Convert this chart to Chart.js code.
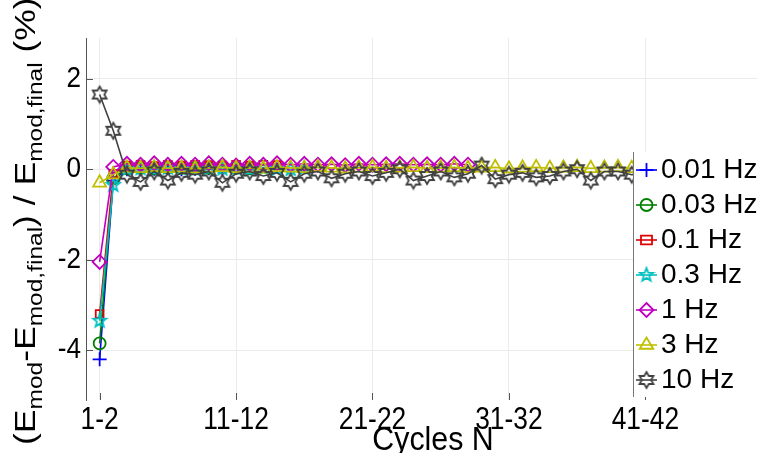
<!DOCTYPE html>
<html>
<head>
<meta charset="utf-8">
<script src="https://cdn.jsdelivr.net/npm/chart.js"></script>
<style>
  html, body { margin: 0; padding: 0; background: #fff; }
  #wrap { width: 767px; height: 453px; }
</style>
</head>
<body>
<div id="wrap"><canvas id="chart" width="767" height="453"></canvas></div>
<script>
// series names + values (% deviation of E_mod from final value, per cycle pair)
const freqLabels = ['0.01 Hz', '0.03 Hz', '0.1 Hz', '0.3 Hz', '1 Hz', '3 Hz', '10 Hz'];
const hz001 = [-4.2, -0.25, 0.0, 0.02, 0.01, 0.02, 0.0, 0.01, 0.02, 0.01];
const hz003 = [-3.85, -0.2, 0.02, 0.03, 0.02, 0.04, 0.03, 0.02, 0.03, 0.04, 0.03, 0.02];
const hz01 = [-3.2, -0.1, 0.08, 0.1, 0.07, 0.1, 0.08, 0.1, 0.09, 0.08, 0.1, 0.08, 0.1, 0.09];
const hz03 = [-3.35, -0.35, 0.0, 0.02, 0.0, 0.03, 0.01, 0.0, 0.02, 0.01, 0.02, 0.0, 0.02, 0.01, 0.0, 0.02];
const hz1 = [-2.05, 0.05, 0.12, 0.1, 0.13, 0.1, 0.12, 0.1, 0.13, 0.1, 0.08, 0.12, 0.1, 0.13,
  0.1, 0.12, 0.1, 0.11, 0.09, 0.12, 0.1, 0.11, 0.12, 0.1, 0.11, 0.1, 0.12, 0.1];
const hz3 = [-0.3, -0.12, 0.03, 0.02, 0.04, 0.02, 0.03, 0.01, 0.03, 0.04, 0.02, 0.03, 0.01, 0.04,
  0.03, 0.02, 0.04, 0.03, 0.01, 0.03, 0.04, 0.02, 0.03, 0.04, 0.02, 0.03, 0.04, 0.02, 0.03, 0.04,
  0.01, 0.03, 0.04, 0.02, 0.03, 0.04, 0.02, 0.03, 0.04, 0.02, 0.03, 0.04, 0.03, 0.02, 0.04, 0.03];
const hz10 = [1.65, 0.85, -0.12, -0.28, -0.05, -0.25, -0.08, -0.12, -0.05, -0.3, -0.1, -0.05,
  -0.15, -0.08, -0.28, -0.1, -0.05, -0.2, -0.1, -0.05, -0.15, -0.08, 0.0, -0.25, -0.15, -0.05,
  -0.18, -0.1, 0.08, -0.22, -0.12, -0.08, -0.18, -0.15, -0.05, 0.0, -0.25, -0.05, -0.05, -0.12,
  -0.1, -0.2, -0.05, 0.0, -0.1, -0.05];
const allSeries = [hz001, hz003, hz01, hz03, hz1, hz3, hz10];

// x tick positions (cycle index) and y ticks
const xTicks = [0, 10, 20, 30, 40];
const yTicks = [2, 0, -2, -4];
const cycleNames = hz10.map((v, i) => (i + 1) + '-' + (i + 2));

const colors = ['#0000ff', '#008000', '#e00000', '#00bfbf', '#bf00bf', '#bfbf00', '#404040'];
const FONT = '"Liberation Sans", Arial, sans-serif';
const LW = 1.8;

// star markers (pentagram / hexagram) as little canvases
function starImg(points, inner, r, color) {
  const c = document.createElement('canvas');
  const s = Math.ceil(r * 2 + 4);
  c.width = s; c.height = s;
  const g = c.getContext('2d');
  g.strokeStyle = color;
  g.lineWidth = LW;
  g.beginPath();
  for (let k = 0; k < points * 2; k++) {
    const rr = k % 2 === 0 ? r : r * inner;
    const a = -Math.PI / 2 + k * Math.PI / points;
    const px = s / 2 + rr * Math.cos(a), py = s / 2 + rr * Math.sin(a);
    if (k === 0) g.moveTo(px, py); else g.lineTo(px, py);
  }
  g.closePath();
  g.stroke();
  return c;
}
const pentaImg = starImg(5, 0.42, 7, colors[3]);
const hexaImg = starImg(6, 0.58, 8, colors[6]);

const markers = ['cross', 'circle', 'rect', pentaImg, 'rectRot', 'triangle', hexaImg];
const radii = [7, 6, 5.5, 7, 7, 7.5, 8];

const datasets = allSeries.map((vals, i) => ({
  label: freqLabels[i],
  data: vals.map((v, k) => ({ x: k, y: v })),
  borderColor: colors[i],
  borderWidth: 1.6,
  pointStyle: markers[i],
  pointRadius: radii[i],
  pointBorderColor: colors[i],
  pointBackgroundColor: 'rgba(0,0,0,0)',
  pointBorderWidth: LW,
  order: 6 - i
}));

function squeezeText(ctx, txt, x, y, size, sx, align) {
  ctx.save();
  ctx.translate(x, y);
  ctx.scale(sx, 1);
  ctx.font = size + 'px ' + FONT;
  ctx.textAlign = align;
  ctx.textBaseline = 'middle';
  ctx.fillStyle = '#000';
  ctx.fillText(txt, 0, 0);
  ctx.restore();
}

function drawMarker(ctx, i, x, y) {
  const m = markers[i], r = radii[i];
  ctx.save();
  ctx.strokeStyle = colors[i];
  ctx.lineWidth = LW;
  if (typeof m !== 'string') {
    ctx.drawImage(m, x - m.width / 2, y - m.height / 2);
    ctx.restore();
    return;
  }
  ctx.beginPath();
  if (m === 'cross') {
    ctx.moveTo(x - r, y); ctx.lineTo(x + r, y);
    ctx.moveTo(x, y - r); ctx.lineTo(x, y + r);
  } else if (m === 'circle') {
    ctx.arc(x, y, r, 0, Math.PI * 2);
  } else if (m === 'rect') {
    ctx.rect(x - r, y - r * 0.8, r * 2, r * 1.6);
  } else if (m === 'rectRot') {
    ctx.moveTo(x, y - r); ctx.lineTo(x + r, y); ctx.lineTo(x, y + r); ctx.lineTo(x - r, y); ctx.closePath();
  } else if (m === 'triangle') {
    ctx.moveTo(x, y - r); ctx.lineTo(x + r * 0.9, y + r * 0.5); ctx.lineTo(x - r * 0.9, y + r * 0.5); ctx.closePath();
  }
  ctx.stroke();
  ctx.restore();
}

// axis texts, legend box and inner tick marks
const decor = {
  id: 'decor',
  afterDraw(chart) {
    const ctx = chart.ctx;
    const xs = chart.scales.x, ys = chart.scales.y;
    const area = chart.chartArea;

    // inner tick marks
    ctx.save();
    ctx.strokeStyle = '#555';
    ctx.lineWidth = 1;
    xs.ticks.forEach(t => {
      const px = Math.round(xs.getPixelForValue(t.value)) + 0.5;
      ctx.beginPath(); ctx.moveTo(px, area.bottom); ctx.lineTo(px, area.bottom - 7); ctx.stroke();
    });
    ys.ticks.forEach(t => {
      const py = Math.round(ys.getPixelForValue(t.value)) + 0.5;
      ctx.beginPath(); ctx.moveTo(area.left, py); ctx.lineTo(area.left + 7, py); ctx.stroke();
    });
    ctx.restore();

    // tick labels
    xs.ticks.forEach(t => {
      squeezeText(ctx, cycleNames[t.value], xs.getPixelForValue(t.value), 420, 31, 0.85, 'center');
    });
    ys.ticks.forEach(t => {
      squeezeText(ctx, String(t.value), area.left - 5, ys.getPixelForValue(t.value), 29, 0.9, 'right');
    });
    squeezeText(ctx, 'Cycles N', 433, 441, 33, 0.92, 'center');

    // y title with subscripts, rotated
    const parts = [['(E', 0], ['mod', 1], ['-E', 0], ['mod,final', 1], [') / E', 0], ['mod,final', 1], [' (%)', 0]];
    ctx.save();
    ctx.translate(35, 445);
    ctx.scale(0.85, 1);
    ctx.rotate(-Math.PI / 2);
    ctx.fillStyle = '#000';
    ctx.textBaseline = 'alphabetic';
    ctx.textAlign = 'left';
    let cx = 0;
    parts.forEach(([txt, sub]) => {
      ctx.font = (sub ? 24.5 : 35.5) + 'px ' + FONT;
      ctx.fillText(txt, cx, sub ? 8 : 0);
      cx += ctx.measureText(txt).width;
    });
    ctx.restore();

    // legend box
    const lx = 633, ly = 152, lb = 397;
    ctx.save();
    ctx.fillStyle = '#fff';
    ctx.fillRect(lx, ly, chart.width - lx, lb - ly);
    ctx.strokeStyle = '#777';
    ctx.lineWidth = 1;
    ctx.beginPath(); ctx.moveTo(lx + 0.5, ly); ctx.lineTo(lx + 0.5, lb); ctx.stroke();
    ctx.restore();
    freqLabels.forEach((name, i) => {
      const y = 170 + 35 * i;
      ctx.save();
      ctx.strokeStyle = colors[i];
      ctx.lineWidth = 1.6;
      ctx.beginPath(); ctx.moveTo(636, y); ctx.lineTo(657, y); ctx.stroke();
      ctx.restore();
      drawMarker(ctx, i, 646.5, y);
      squeezeText(ctx, name, 661, y, 28, 1.0, 'left');
    });
  }
};

new Chart(document.getElementById('chart'), {
  type: 'line',
  data: { datasets },
  options: {
    responsive: false,
    animation: false,
    layout: { padding: { top: 38, right: 0, bottom: 0, left: 0 } },
    plugins: { legend: { display: false }, tooltip: { enabled: false } },
    scales: {
      x: {
        type: 'linear',
        min: -1,
        max: 48.2,
        afterBuildTicks: s => { s.ticks = xTicks.map(v => ({ value: v })); },
        afterFit: s => { s.height = 53; },
        ticks: { display: false },
        grid: { color: '#ebebeb', drawTicks: false },
        border: { display: false }
      },
      y: {
        min: -5.1,
        max: 2.9,
        afterBuildTicks: s => { s.ticks = yTicks.map(v => ({ value: v })); },
        afterFit: s => { s.width = 86; },
        ticks: { display: false },
        grid: { color: '#ebebeb', drawTicks: false },
        border: { display: true, color: '#555', width: 1 }
      }
    }
  },
  plugins: [decor]
});
</script>
</body>
</html>
